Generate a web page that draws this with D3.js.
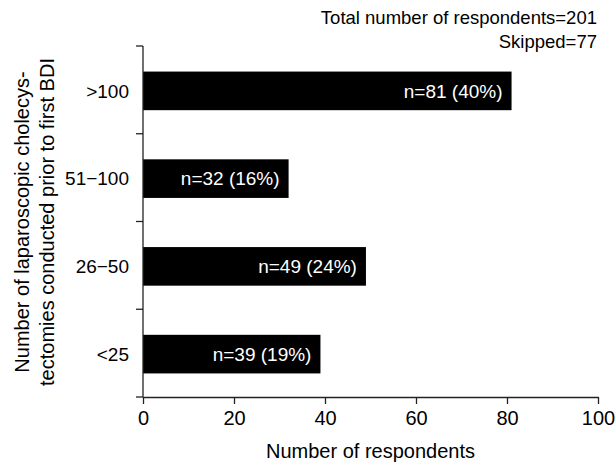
<!DOCTYPE html>
<html>
<head>
<meta charset="utf-8">
<script src="https://cdn.jsdelivr.net/npm/d3@7"></script>
<style>
  body { margin: 0; background: #fff; }
  text { font-family: "Liberation Sans", Arial, sans-serif; }
</style>
</head>
<body>
<div id="chart"></div>
<script>
// categories top to bottom
var categories = [">100", "51\u2212100", "26\u221250", "<25"];
var counts = [81, 32, 49, 39];
var percents = [40, 16, 24, 19];
var xTicks = [0, 20, 40, 60, 80, 100];

var W = 616, H = 464;
var margin = {top: 46, right: 18, bottom: 67, left: 143};

var svg = d3.select("#chart").append("svg")
    .attr("width", W)
    .attr("height", H);

var x = d3.scaleLinear()
    .domain([0, 100])
    .range([margin.left, W - margin.right]);

var y = d3.scaleBand()
    .domain(categories)
    .range([margin.top, H - margin.bottom])
    .paddingInner(0.56)
    .paddingOuter(0.28);

var data = categories.map(function(c, i) {
  return {cat: c, n: counts[i], pct: percents[i]};
});

// bars
svg.append("g")
  .selectAll("rect")
  .data(data)
  .enter().append("rect")
    .attr("x", x(0))
    .attr("y", function(d) { return y(d.cat) + 1; })
    .attr("width", function(d) { return x(d.n) - x(0); })
    .attr("height", y.bandwidth())
    .attr("fill", "#000");

// labels inside bars
svg.append("g")
  .selectAll("text")
  .data(data)
  .enter().append("text")
    .attr("x", function(d) { return x(d.n) - 9; })
    .attr("y", function(d) { return y(d.cat) + 1 + y.bandwidth() / 2; })
    .attr("dy", "0.35em")
    .attr("text-anchor", "end")
    .attr("fill", "#fff")
    .attr("font-size", 19)
    .text(function(d) { return "n=" + d.n + " (" + d.pct + "%)"; });

// x axis
var xAxis = svg.append("g")
    .attr("transform", "translate(0," + (H - margin.bottom) + ")")
    .call(d3.axisBottom(x).tickValues(xTicks).tickSize(7).tickSizeOuter(0));
xAxis.selectAll("text").attr("font-size", 20).attr("fill", "#000").attr("dy", "0.9em");
xAxis.select(".domain").attr("stroke", "#222").attr("stroke-width", 1.3);
xAxis.selectAll(".tick line").attr("stroke", "#222").attr("stroke-width", 1.3);

// y axis: ticks on band boundaries, labels at band centers
var bounds = [margin.top].concat(categories.map(function(c) {
  return y(c) + y.bandwidth() / 2 + y.step() / 2;
}));
var yAxis = svg.append("g");
yAxis.append("line")
    .attr("x1", x(0)).attr("x2", x(0))
    .attr("y1", margin.top).attr("y2", H - margin.bottom)
    .attr("stroke", "#222").attr("stroke-width", 1.3);
yAxis.selectAll("line.tk")
  .data(bounds)
  .enter().append("line")
    .attr("class", "tk")
    .attr("x1", x(0) - 7).attr("x2", x(0))
    .attr("y1", function(d) { return d; })
    .attr("y2", function(d) { return d; })
    .attr("stroke", "#222").attr("stroke-width", 1.3);
yAxis.selectAll("text")
  .data(categories)
  .enter().append("text")
    .attr("x", x(0) - 14)
    .attr("y", function(d) { return y(d) + 1 + y.bandwidth() / 2; })
    .attr("dy", "0.35em")
    .attr("text-anchor", "end")
    .attr("font-size", 19)
    .text(function(d) { return d; });

// axis titles
svg.append("text")
    .attr("x", (x(0) + x(100)) / 2)
    .attr("y", 458)
    .attr("text-anchor", "middle")
    .attr("font-size", 20)
    .text("Number of respondents");

var yTitle = svg.append("text")
    .attr("transform", "translate(22," + 222 + ") rotate(-90)")
    .attr("text-anchor", "middle")
    .attr("font-size", 20);
yTitle.append("tspan").attr("x", 0).attr("dy", "0.35em").text("Number of laparoscopic cholecys-");
yTitle.append("tspan").attr("x", 0).attr("dy", "1.25em").text("tectomies conducted prior to first BDI");

// annotation
var note = svg.append("text")
    .attr("text-anchor", "end")
    .attr("font-size", 18.5);
note.append("tspan").attr("x", 597).attr("y", 24).text("Total number of respondents=201");
note.append("tspan").attr("x", 597).attr("y", 48).text("Skipped=77");
</script>
</body>
</html>
